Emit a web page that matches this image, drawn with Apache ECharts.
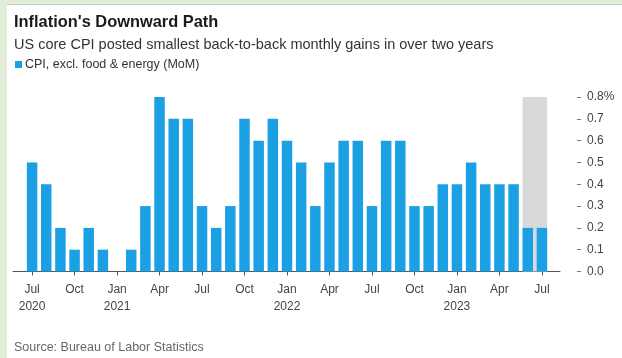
<!DOCTYPE html>
<html>
<head>
<meta charset="utf-8">
<script src="https://cdn.jsdelivr.net/npm/echarts@6/dist/echarts.min.js"></script>
<style>
  html, body { margin: 0; padding: 0; background: #ffffff; }
  #chart { width: 622px; height: 358px; }
</style>
</head>
<body>
<div id="chart"></div>
<script>
// Monthly core CPI change (MoM, %), Jul 2020 – Jul 2023
const months = [
  'Jul 2020', 'Aug 2020', 'Sep 2020', 'Oct 2020', 'Nov 2020', 'Dec 2020',
  'Jan 2021', 'Feb 2021', 'Mar 2021', 'Apr 2021', 'May 2021', 'Jun 2021',
  'Jul 2021', 'Aug 2021', 'Sep 2021', 'Oct 2021', 'Nov 2021', 'Dec 2021',
  'Jan 2022', 'Feb 2022', 'Mar 2022', 'Apr 2022', 'May 2022', 'Jun 2022',
  'Jul 2022', 'Aug 2022', 'Sep 2022', 'Oct 2022', 'Nov 2022', 'Dec 2022',
  'Jan 2023', 'Feb 2023', 'Mar 2023', 'Apr 2023', 'May 2023', 'Jun 2023',
  'Jul 2023'
];
const coreCpiMoM = [
  0.5, 0.4, 0.2, 0.1, 0.2, 0.1,
  0.0, 0.1, 0.3, 0.8, 0.7, 0.7,
  0.3, 0.2, 0.3, 0.7, 0.6, 0.7,
  0.6, 0.5, 0.3, 0.5, 0.6, 0.6,
  0.3, 0.6, 0.6, 0.3, 0.3, 0.4,
  0.4, 0.5, 0.4, 0.4, 0.4, 0.2,
  0.2
];
// Shaded stretch: the two latest readings
const highlightMonths = ['Jun 2023', 'Jul 2023'];
const yTicks = { min: 0, max: 0.8, step: 0.1 };
const seriesName = 'CPI, excl. food & energy (MoM)';

const BLUE = '#1ba0e4';
const FONT = '"Liberation Sans", Arial, sans-serif';
const BAR_FRACTION = 0.74;

const chart = echarts.init(document.getElementById('chart'), null, { renderer: 'canvas' });

chart.setOption({
  animation: false,
  backgroundColor: '#ffffff',
  textStyle: { fontFamily: FONT },
  graphic: [
    // page frame
    { type: 'rect', left: 0, top: 0, shape: { width: 7, height: 358 }, style: { fill: '#e2edd8' }, silent: true },
    { type: 'rect', left: 0, top: 0, shape: { width: 622, height: 4 }, style: { fill: '#e2edd8' }, silent: true },
    { type: 'rect', left: 7, top: 4, shape: { width: 615, height: 1 }, style: { fill: '#c9d2c2' }, silent: true },
    {
      type: 'text', left: 14, top: 14,
      style: { text: "Inflation's Downward Path", font: 'bold 16.4px ' + FONT, fill: '#1a1a1a' }
    },
    {
      type: 'text', left: 14, top: 37,
      style: { text: 'US core CPI posted smallest back-to-back monthly gains in over two years', font: '14.5px ' + FONT, fill: '#333333' }
    },
    {
      type: 'text', left: 14, top: 341,
      style: { text: 'Source: Bureau of Labor Statistics', font: '12.5px ' + FONT, fill: '#666666' }
    }
  ],
  legend: {
    left: 10, top: 53,
    itemWidth: 7, itemHeight: 7, itemGap: 6,
    icon: 'rect',
    textStyle: { fontSize: 12.5, color: '#333333', fontFamily: FONT, padding: [0, 0, 0, -2] },
    data: [seriesName]
  },
  grid: [
    { left: 25, right: 73, top: 97, bottom: 86.5, containLabel: false },
    { left: 13, right: 62, top: 97, bottom: 86.5, containLabel: false }
  ],
  xAxis: [
    {
      type: 'category', gridIndex: 0, data: months,
      boundaryGap: true,
      axisLine: { show: false },
      axisTick: { show: true, interval: 2, alignWithLabel: true, length: 4, lineStyle: { color: '#555555' } },
      axisLabel: {
        interval: 2, margin: 10, fontSize: 12, lineHeight: 17, color: '#444444', fontFamily: FONT,
        formatter: (v, i) => {
          const [m, y] = v.split(' ');
          return (i === 0 || m === 'Jan') ? m + '\n' + y : m;
        }
      },
      splitLine: { show: false }
    },
    {
      // baseline running the full width of the plot
      type: 'value', gridIndex: 1, min: 0, max: 1,
      axisLine: { show: true, onZero: false, lineStyle: { color: '#555555', width: 1 } },
      axisTick: { show: false }, axisLabel: { show: false }, splitLine: { show: false }
    }
  ],
  yAxis: [
    {
      type: 'value', gridIndex: 0, position: 'right', offset: 28,
      min: yTicks.min, max: yTicks.max, interval: yTicks.step,
      axisLine: { show: false },
      axisTick: { show: true, length: 4, lineStyle: { color: '#777777' } },
      axisLabel: {
        margin: 10, fontSize: 12, color: '#444444', fontFamily: FONT,
        formatter: v => (Math.abs(v - yTicks.max) < 1e-9 ? v.toFixed(1) + '%' : v.toFixed(1))
      },
      splitLine: { show: false }
    },
    {
      type: 'value', gridIndex: 1, min: 0, max: 1, show: false
    }
  ],
  series: [
    {
      // grey band behind the latest readings
      type: 'custom',
      xAxisIndex: 0, yAxisIndex: 0,
      z: 1, silent: true,
      encode: { x: [0, 1], y: 2 },
      data: [[highlightMonths[0], highlightMonths[highlightMonths.length - 1], yTicks.max]],
      renderItem: (params, api) => {
        const top = api.coord([api.value(0), api.value(2)]);
        const end = api.coord([api.value(1), 0]);
        const half = api.size([1, 0])[0] * BAR_FRACTION / 2;
        return {
          type: 'rect',
          shape: { x: top[0] - half, y: top[1], width: end[0] - top[0] + 2 * half, height: end[1] - top[1] },
          style: { fill: '#d9d9d9' }
        };
      }
    },
    {
      name: seriesName,
      type: 'bar',
      xAxisIndex: 0, yAxisIndex: 0,
      z: 2,
      data: coreCpiMoM,
      barCategoryGap: ((1 - BAR_FRACTION) * 100) + '%',
      itemStyle: { color: BLUE }
    }
  ]
});
</script>
</body>
</html>
